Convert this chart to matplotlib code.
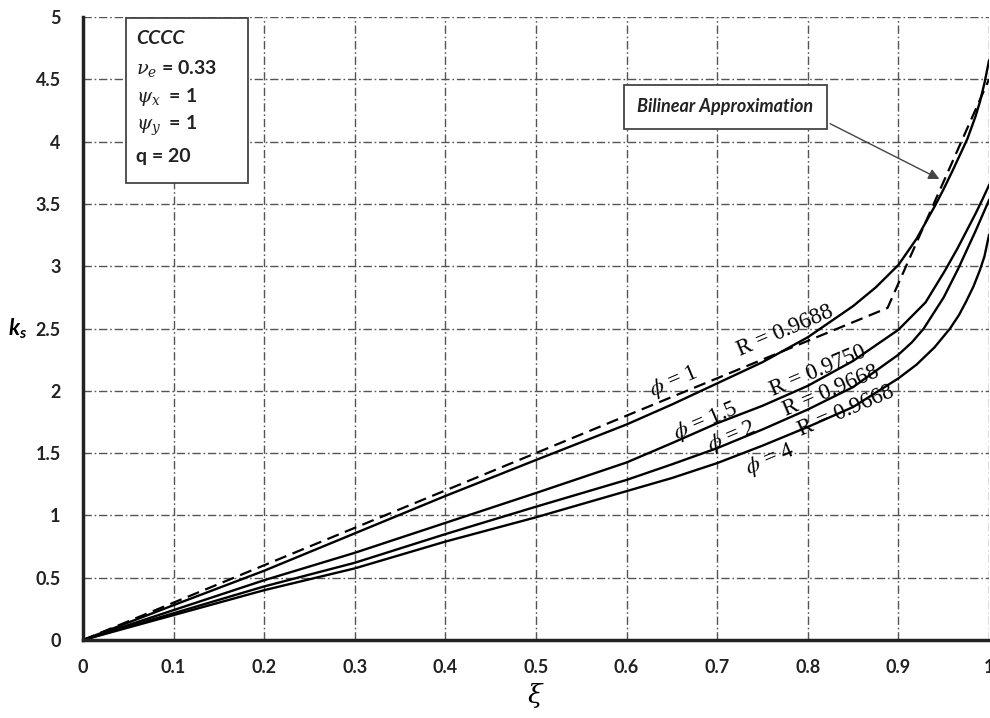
import matplotlib
matplotlib.use("Agg")
import matplotlib.pyplot as plt
from matplotlib.patches import Rectangle

# ks against xi for each phi
xi_phi1 = [0, 0.1, 0.2, 0.3, 0.4, 0.5, 0.6, 0.65, 0.7, 0.75, 0.8, 0.85, 0.875, 0.9, 0.92, 0.94,
           0.95, 0.96, 0.976, 0.985, 0.99, 0.995, 1.0]
ks_phi1 = [0, 0.28, 0.556, 0.856, 1.156, 1.445, 1.73, 1.89, 2.06, 2.23, 2.43, 2.68, 2.83, 3.01, 3.22, 3.48,
           3.62, 3.77, 4.02, 4.2, 4.32, 4.47, 4.65]

xi_phi15 = [0, 0.1, 0.2, 0.3, 0.4, 0.5, 0.6, 0.65, 0.7, 0.75, 0.8, 0.85, 0.9, 0.93, 0.951,
            0.965, 0.975, 0.985, 0.993, 1.0]
ks_phi15 = [0, 0.24, 0.48, 0.70, 0.94, 1.18, 1.425, 1.58, 1.74, 1.88, 2.04, 2.24, 2.49, 2.71, 2.96,
            3.14, 3.28, 3.42, 3.54, 3.65]

xi_phi2 = [0, 0.1, 0.2, 0.3, 0.4, 0.5, 0.6, 0.65, 0.7, 0.75, 0.8, 0.85, 0.9, 0.915, 0.928, 0.95,
           0.966, 0.985, 1.0]
ks_phi2 = [0, 0.215, 0.43, 0.62, 0.85, 1.07, 1.285, 1.41, 1.54, 1.69, 1.85, 2.03, 2.29, 2.39, 2.5, 2.75,
           2.98, 3.28, 3.53]

xi_phi4 = [0, 0.1, 0.2, 0.3, 0.4, 0.5, 0.6, 0.65, 0.7, 0.75, 0.8, 0.85, 0.9, 0.92, 0.94, 0.957,
           0.967, 0.975, 0.983, 0.99, 0.995, 1.0]
ks_phi4 = [0, 0.2, 0.40, 0.575, 0.79, 0.985, 1.195, 1.30, 1.42, 1.56, 1.71, 1.87, 2.10, 2.21, 2.35, 2.5,
           2.61, 2.72, 2.84, 2.97, 3.08, 3.25]

# bilinear fit of the phi = 1 curve
xi_bilin = [0, 0.888, 1.0]
ks_bilin = [0, 2.665, 4.5]

# curve labels: text, position (xi, ks)
curve_labels = [
    (r"$\phi$ = 1", 0.652, 2.07),
    ("R = 0.9688", 0.775, 2.48),
    (r"$\phi$ = 1.5", 0.687, 1.75),
    ("R = 0.9750", 0.811, 2.16),
    (r"$\phi$ = 2", 0.716, 1.63),
    ("R = 0.9668", 0.826, 2.0),
    (r"$\phi$ = 4", 0.758, 1.45),
    ("R = 0.9668", 0.842, 1.84),
]

box_lines = ["CCCC", r"$\nu_e$ = 0.33", r"$\psi_x$  = 1", r"$\psi_y$  = 1", "q = 20"]

xticks = [0, 0.1, 0.2, 0.3, 0.4, 0.5, 0.6, 0.7, 0.8, 0.9, 1]
xtick_labels = ["0", "0.1", "0.2", "0.3", "0.4", "0.5", "0.6", "0.7", "0.8", "0.9", "1"]
yticks = [0, 0.5, 1, 1.5, 2, 2.5, 3, 3.5, 4, 4.5, 5]
ytick_labels = ["0", "0.5", "1", "1.5", "2", "2.5", "3", "3.5", "4", "4.5", "5"]

plt.rcParams["font.family"] = ["Lato", "DejaVu Sans"]
plt.rcParams["mathtext.fontset"] = "custom"
plt.rcParams["mathtext.it"] = "Lato:italic:bold"
plt.rcParams["mathtext.rm"] = "Lato:bold"

fig = plt.figure(figsize=(9.9, 7.18), dpi=100)
ax = fig.add_axes([0.0838, 0.1086, 0.9152, 0.8677])

grid_style = dict(color="#555555", linewidth=1.0, linestyle=(0, (6, 2, 1.2, 2)))
ax.grid(True, **grid_style)
ax.set_axisbelow(True)

ax.plot(xi_phi1, ks_phi1, color="black", lw=1.7)
ax.plot(xi_phi15, ks_phi15, color="black", lw=1.7)
ax.plot(xi_phi2, ks_phi2, color="black", lw=1.7)
ax.plot(xi_phi4, ks_phi4, color="black", lw=1.7)
ax.plot(xi_bilin, ks_bilin, color="black", lw=1.6, linestyle=(0, (5.5, 3)))

ax.set_xlim(0, 1)
ax.set_ylim(0, 5)
ax.set_xticks(xticks)
ax.set_xticklabels(xtick_labels, fontsize=13, fontweight="bold", color="#222222")
ax.set_yticks(yticks)
ax.set_yticklabels(ytick_labels, fontsize=13, fontweight="bold", color="#222222")
ax.tick_params(axis="both", length=0)
ax.tick_params(axis="x", pad=14)
ax.tick_params(axis="y", pad=16)

for side in ["top", "right"]:
    ax.spines[side].set_visible(False)
for side in ["left", "bottom"]:
    ax.spines[side].set_linewidth(2.5)
    ax.spines[side].set_color("#222222")
    ax.spines[side].set_zorder(5)

ax.set_xlabel(r"$\xi$", fontsize=19, math_fontfamily="dejavuserif", labelpad=3)
ax.text(-0.072, 2.5, r"$k_s$", fontsize=16, ha="center", va="center")

for txt, x, y in curve_labels:
    ax.text(x, y, txt, fontsize=16.5, rotation=23, ha="center", va="center",
            family="Liberation Serif", math_fontfamily="stix", rotation_mode="anchor")

# parameter box in the top-left corner
ax.add_patch(Rectangle((0.047, 3.67), 0.135, 1.32, facecolor="white",
                       edgecolor="#444444", lw=1.3, zorder=4))
box_y = [4.83, 4.59, 4.36, 4.13, 3.88]
for i, line in enumerate(box_lines):
    style = "italic" if i == 0 else "normal"
    ax.text(0.059, box_y[i], line, fontsize=14, fontweight="bold", style=style,
            va="center", ha="left", color="#222222", math_fontfamily="dejavuserif", zorder=6)

ax.annotate("Bilinear Approximation", xy=(0.948, 3.69), xytext=(0.709, 4.28),
            fontsize=13, fontweight="bold", style="italic", color="#222222",
            ha="center", va="center",
            bbox=dict(boxstyle="square,pad=0.75", fc="white", ec="#444444", lw=1.3),
            arrowprops=dict(arrowstyle="-|>", color="#444444", lw=1.0,
                            mutation_scale=16, relpos=(1, 0)))

fig.savefig("out.png", dpi=100)
